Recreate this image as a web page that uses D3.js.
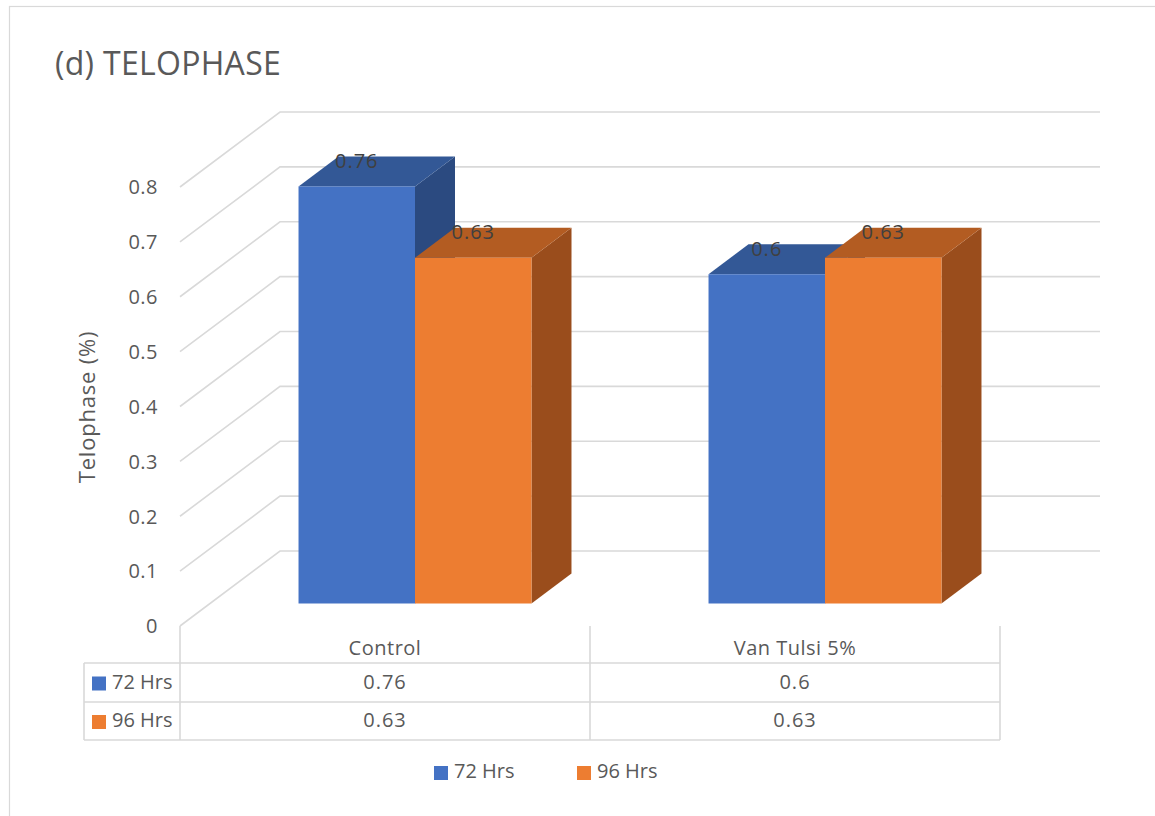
<!DOCTYPE html>
<html>
<head>
<meta charset="utf-8">
<script src="https://cdn.jsdelivr.net/npm/d3@7"></script>
<style>
  html, body { margin: 0; padding: 0; background: #fff; }
  svg { display: block; font-family: "Open Sans", "Noto Sans", sans-serif; }
</style>
</head>
<body>
<svg id="chart" width="1155" height="816"></svg>
<script>
// Data
const categories = ["Control", "Van Tulsi 5%"];
const series = ["72 Hrs", "96 Hrs"];
const values72 = [0.76, 0.6];
const values96 = [0.63, 0.63];
const yTicks = [0, 0.1, 0.2, 0.3, 0.4, 0.5, 0.6, 0.7, 0.8];
const titleText = "(d) TELOPHASE";
const yTitle = "Telophase (%)";

const seriesValues = [values72, values96];
const colors = {
  front: ["#4472C4", "#ED7D31"],
  top:   ["#335896", "#B35C22"],
  side:  ["#2B4A80", "#9A4D1C"]
};

const svg = d3.select("#chart");
const gridColor = "#d9d9d9";
const textColor = "#595959";

// outer frame
svg.append("rect")
  .attr("x", 9.5).attr("y", 6.5)
  .attr("width", 1170).attr("height", 830)
  .attr("fill", "none").attr("stroke", gridColor).attr("stroke-width", 1.2);

// 3D box geometry: front-left floor corner, floor width, depth vector
const floorX = 180, floorY = 626, floorW = 820;
const depth = { dx: 100, dy: -75 };

const y = d3.scaleLinear().domain([0, 0.8]).range([0, 439]); // height in px
const x0 = d3.scaleBand().domain(categories).range([floorX, floorX + floorW]);
const x1 = d3.scaleBand().domain(series).range([0, x0.bandwidth()])
  .paddingInner(0).paddingOuter(0.76);

// Walls: side wall diagonals and back wall horizontals for each tick
const walls = svg.append("g").attr("stroke", gridColor).attr("stroke-width", 1.6).attr("fill", "none");
yTicks.forEach(t => {
  const h = y(t);
  walls.append("polyline").attr("points", [
    [floorX, floorY - h],
    [floorX + depth.dx, floorY + depth.dy - h],
    [floorX + floorW + depth.dx, floorY + depth.dy - h]
  ].map(p => p.join(",")).join(" "));
});

// Tick labels
svg.append("g").selectAll("text").data(yTicks).join("text")
  .attr("x", 158).attr("y", d => floorY - y(d) + 2)
  .attr("text-anchor", "end").attr("dominant-baseline", "middle")
  .attr("font-size", 20).attr("letter-spacing", 0.5).attr("fill", textColor)
  .text(d => d === 0 ? "0" : d3.format(".1f")(d));

// Axis title
svg.append("text")
  .attr("transform", "translate(89,407) rotate(-90)")
  .attr("text-anchor", "middle").attr("dominant-baseline", "middle")
  .attr("font-size", 22).attr("letter-spacing", 0.8).attr("fill", textColor)
  .text(yTitle);

// Chart title
svg.append("text")
  .attr("x", 55).attr("y", 75)
  .attr("font-size", 32).attr("letter-spacing", 0.3).attr("fill", textColor)
  .text(titleText);

// Bars (depth from 0.3 to 0.7 of the box depth)
const d0 = 0.3, dFrac = 0.4;
const shiftX = depth.dx * d0, shiftY = depth.dy * d0;
const sideDx = depth.dx * dFrac, sideDy = depth.dy * dFrac;
const baseY = floorY + shiftY;

const bars = [];
categories.forEach((c, ci) => {
  series.forEach((s, si) => {
    bars.push({ cat: c, ser: s, si, value: seriesValues[si][ci] });
  });
});

const barG = svg.append("g");
const pts = arr => arr.map(p => p.join(",")).join(" ");
bars.forEach(b => {
  const xl = x0(b.cat) + x1(b.ser) + shiftX;
  const xr = xl + x1.bandwidth();
  const yt = baseY - y(b.value);
  const g = barG.append("g");
  g.append("polygon").attr("points", pts([[xr, baseY], [xr + sideDx, baseY + sideDy], [xr + sideDx, yt + sideDy], [xr, yt]]))
    .attr("fill", colors.side[b.si]);
  g.append("polygon").attr("points", pts([[xl, yt], [xl + sideDx, yt + sideDy], [xr + sideDx, yt + sideDy], [xr, yt]]))
    .attr("fill", colors.top[b.si]);
  g.append("rect").attr("x", xl).attr("y", yt).attr("width", xr - xl).attr("height", baseY - yt)
    .attr("fill", colors.front[b.si]);
  b.cx = (xl + xr) / 2; b.yt = yt;
});

// Data labels
svg.append("g").selectAll("text").data(bars).join("text")
  .attr("x", d => d.cx).attr("y", d => d.yt - 24)
  .attr("text-anchor", "middle").attr("dominant-baseline", "middle")
  .attr("font-size", 20).attr("letter-spacing", 1).attr("fill", "#404040")
  .text(d => String(d.value));

// Data table
const rowY = [626, 663, 702, 740];
const tableLeft = 84;
const tbl = svg.append("g").attr("stroke", gridColor).attr("stroke-width", 1.6);
// horizontal rules
tbl.append("line").attr("x1", tableLeft).attr("x2", floorX + floorW).attr("y1", rowY[1]).attr("y2", rowY[1]);
tbl.append("line").attr("x1", tableLeft).attr("x2", floorX + floorW).attr("y1", rowY[2]).attr("y2", rowY[2]);
tbl.append("line").attr("x1", tableLeft).attr("x2", floorX + floorW).attr("y1", rowY[3]).attr("y2", rowY[3]);
// vertical rules
tbl.append("line").attr("x1", tableLeft).attr("x2", tableLeft).attr("y1", rowY[1]).attr("y2", rowY[3]);
[floorX, ...categories.map(c => x0(c) + x0.bandwidth())].forEach(xv => {
  tbl.append("line").attr("x1", xv).attr("x2", xv).attr("y1", rowY[0]).attr("y2", rowY[3]);
});

// header (category) labels
svg.append("g").selectAll("text").data(categories).join("text")
  .attr("x", d => x0(d) + x0.bandwidth() / 2).attr("y", (rowY[0] + rowY[1]) / 2 + 5)
  .attr("text-anchor", "middle").attr("dominant-baseline", "middle")
  .attr("font-size", 20).attr("letter-spacing", 0.5).attr("fill", textColor).text(d => d);

// value cells
series.forEach((s, si) => {
  const cy = (rowY[si + 1] + rowY[si + 2]) / 2 + 1;
  svg.append("g").selectAll("text").data(categories).join("text")
    .attr("x", d => x0(d) + x0.bandwidth() / 2).attr("y", cy)
    .attr("text-anchor", "middle").attr("dominant-baseline", "middle")
    .attr("font-size", 20).attr("letter-spacing", 1).attr("fill", textColor)
    .text((d, ci) => String(seriesValues[si][ci]));
  svg.append("rect").attr("x", 92).attr("y", cy - 7).attr("width", 14).attr("height", 14)
    .attr("fill", colors.front[si]);
  svg.append("text").attr("x", 112).attr("y", cy)
    .attr("dominant-baseline", "middle").attr("font-size", 20).attr("fill", textColor).text(s);
});

// Legend
const legendX = [434, 577];
series.forEach((s, si) => {
  svg.append("rect").attr("x", legendX[si]).attr("y", 766).attr("width", 14).attr("height", 14)
    .attr("fill", colors.front[si]);
  svg.append("text").attr("x", legendX[si] + 20).attr("y", 773)
    .attr("dominant-baseline", "middle").attr("font-size", 20).attr("fill", textColor).text(s);
});
</script>
</body>
</html>
